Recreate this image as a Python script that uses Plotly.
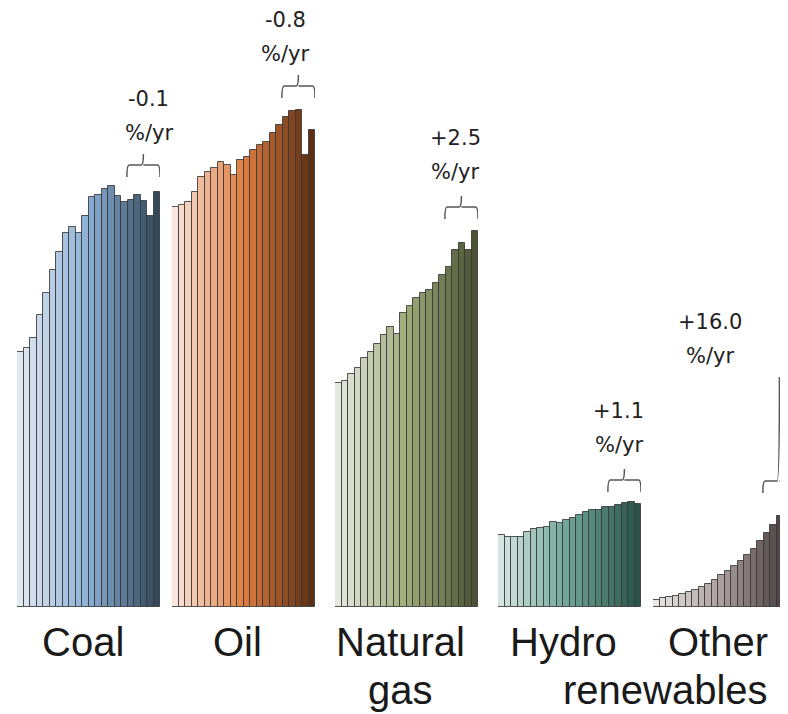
import plotly.graph_objects as go

# ---------------- data (bar heights, arbitrary units) ----------------
categories = ["Coal", "Oil", "Natural<br>gas", "Hydro", "Other<br>renewables"]
rates = ["-0.1", "-0.8", "+2.5", "+1.1", "+16.0"]
unit_label = "%/yr"

coal = [255, 259, 269, 292, 314, 337, 355, 374, 380, 374, 391,
        410, 412, 418, 421, 411, 405, 407, 412, 406, 391, 415]
oil = [400, 402, 405, 415, 430, 435, 439, 445, 442, 432, 447,
       450, 457, 462, 465, 474, 482, 490, 496, 497, 452, 477]
natural_gas = [224, 226, 233, 239, 249, 255, 263, 272, 280, 273, 294,
               301, 309, 314, 317, 324, 332, 340, 357, 364, 357, 376]
hydro = [72, 70, 70, 70, 75, 78, 79, 80, 85, 84, 87,
         89, 92, 95, 97, 97, 100, 100, 102, 104, 105, 103]
other_renewables = [7, 9, 10, 11, 13, 15, 17, 20, 23, 27, 32,
                    36, 41, 46, 52, 58, 66, 74, 82, 91, 105, 112]

series = [coal, oil, natural_gas, hydro, other_renewables]

# ---------------- styling / layout configuration ----------------
PAGE_OFF = 8                   # default page body margin
W_REF, H_REF = 788, 714
W, H = W_REF - PAGE_OFF, H_REF - PAGE_OFF
BASE_REF = 607                 # baseline position (window pixels)
BASE = BASE_REF - PAGE_OFF
BAR_PX = 6.5                   # pixel width of one bar
group_start_ref = [17, 172, 335, 498, 653]
LABEL_LINE_PX = 48

color_stops = [
    [(226, 233, 241), (138, 176, 214), (52, 72, 92)],     # coal
    [(251, 229, 220), (224, 125, 64), (92, 46, 18)],      # oil
    [(230, 232, 224), (160, 172, 122), (74, 84, 52)],     # gas
    [(212, 229, 225), (108, 164, 149), (42, 84, 73)],     # hydro
    [(234, 230, 230), (168, 154, 154), (58, 50, 50)],     # other
]

bracket_base = [430, 509, 388, 115, 114]     # y of bracket legs (data units)
bracket_tick_top = [None, None, None, None, 230]
text_x = [19.8, 16.9, 18.0, 18.1, 8.3]        # x (bar units) of the rate text
text_dy = [-3, -3, 0, 0, -3]


def lerp(c0, c1, t):
    return tuple(round(a + (b - a) * t) for a, b in zip(c0, c1))


def gradient(stops, n):
    out = []
    for i in range(n):
        t = i / (n - 1)
        if t <= 0.5:
            c = lerp(stops[0], stops[1], t / 0.5)
        else:
            c = lerp(stops[1], stops[2], (t - 0.5) / 0.5)
        out.append("rgb(%d,%d,%d)" % c)
    return out


fig = go.Figure()
layout_axes = {}
shapes = []
annotations = []
txt_font = dict(family="DejaVu Sans", size=21, color="#222222")
lab_font = dict(family="Liberation Sans", size=40, color="#1a1a1a")

for g, vals in enumerate(series):
    n = len(vals)
    xname = "x" if g == 0 else "x%d" % (g + 1)
    axkey = "xaxis" if g == 0 else "xaxis%d" % (g + 1)
    start = group_start_ref[g] - PAGE_OFF
    end = min(start + n * BAR_PX, W)
    rng = [-0.5, -0.5 + (end - start) / BAR_PX]
    fig.add_trace(go.Bar(
        x=list(range(n)), y=vals, xaxis=xname, yaxis="y",
        width=1.0,
        marker=dict(color=gradient(color_stops[g], n),
                    line=dict(color="rgba(55,55,55,0.85)", width=1)),
        showlegend=False, hoverinfo="skip",
    ))
    layout_axes[axkey] = dict(domain=[start / W, end / W], range=rng,
                              visible=False, anchor="y", fixedrange=True)

    # bracket over the last five bars
    x0, x1 = n - 5 - 0.6, n - 0.5
    xc = (x0 + x1) / 2
    yb = bracket_base[g]
    yh = yb + 12
    yt = bracket_tick_top[g] if bracket_tick_top[g] is not None else yb + 23
    d = 0.35
    path = (f"M {x0},{yb} Q {x0},{yh} {x0 + d},{yh} L {xc - d},{yh} "
            f"Q {xc},{yh} {xc},{yt} M {xc},{yh} "
            f"L {x1 - d},{yh} Q {x1},{yh} {x1},{yb}")
    shapes.append(dict(type="path", path=path, xref=xname, yref="y",
                       line=dict(color="#555555", width=1.5)))

    # rate text (two lines)
    y_unit = yt + 24 + text_dy[g]
    annotations.append(dict(x=text_x[g], y=y_unit + 34, xref=xname, yref="y",
                            text=rates[g], showarrow=False, yanchor="middle",
                            font=txt_font))
    annotations.append(dict(x=text_x[g], y=y_unit, xref=xname, yref="y",
                            text=unit_label, showarrow=False, yanchor="middle",
                            font=txt_font))

    # category label (one annotation per line for tight line spacing)
    for k, line in enumerate(categories[g].split("<br>")):
        if g < 4:
            annotations.append(dict(x=(n - 1) / 2, xshift=-6, y=0, xref=xname, yref="y",
                                    text=line, showarrow=False,
                                    xanchor="center", yanchor="top",
                                    yshift=-11 - LABEL_LINE_PX * k,
                                    font=lab_font))
        else:
            annotations.append(dict(x=(770 - group_start_ref[g]) / BAR_PX - 0.5, y=0,
                                    xref=xname, yref="y",
                                    text=line, showarrow=False,
                                    xanchor="right", yanchor="top",
                                    yshift=-11 - LABEL_LINE_PX * k,
                                    font=lab_font))

fig.update_layout(
    width=W, height=H,
    margin=dict(l=0, r=0, t=0, b=H - BASE),
    paper_bgcolor="white", plot_bgcolor="white",
    bargap=0,
    yaxis=dict(range=[0, BASE], domain=[0, 1], visible=False, fixedrange=True),
    shapes=shapes, annotations=annotations,
    **layout_axes,
)

fig.write_html("out.html", config={"displayModeBar": False})
